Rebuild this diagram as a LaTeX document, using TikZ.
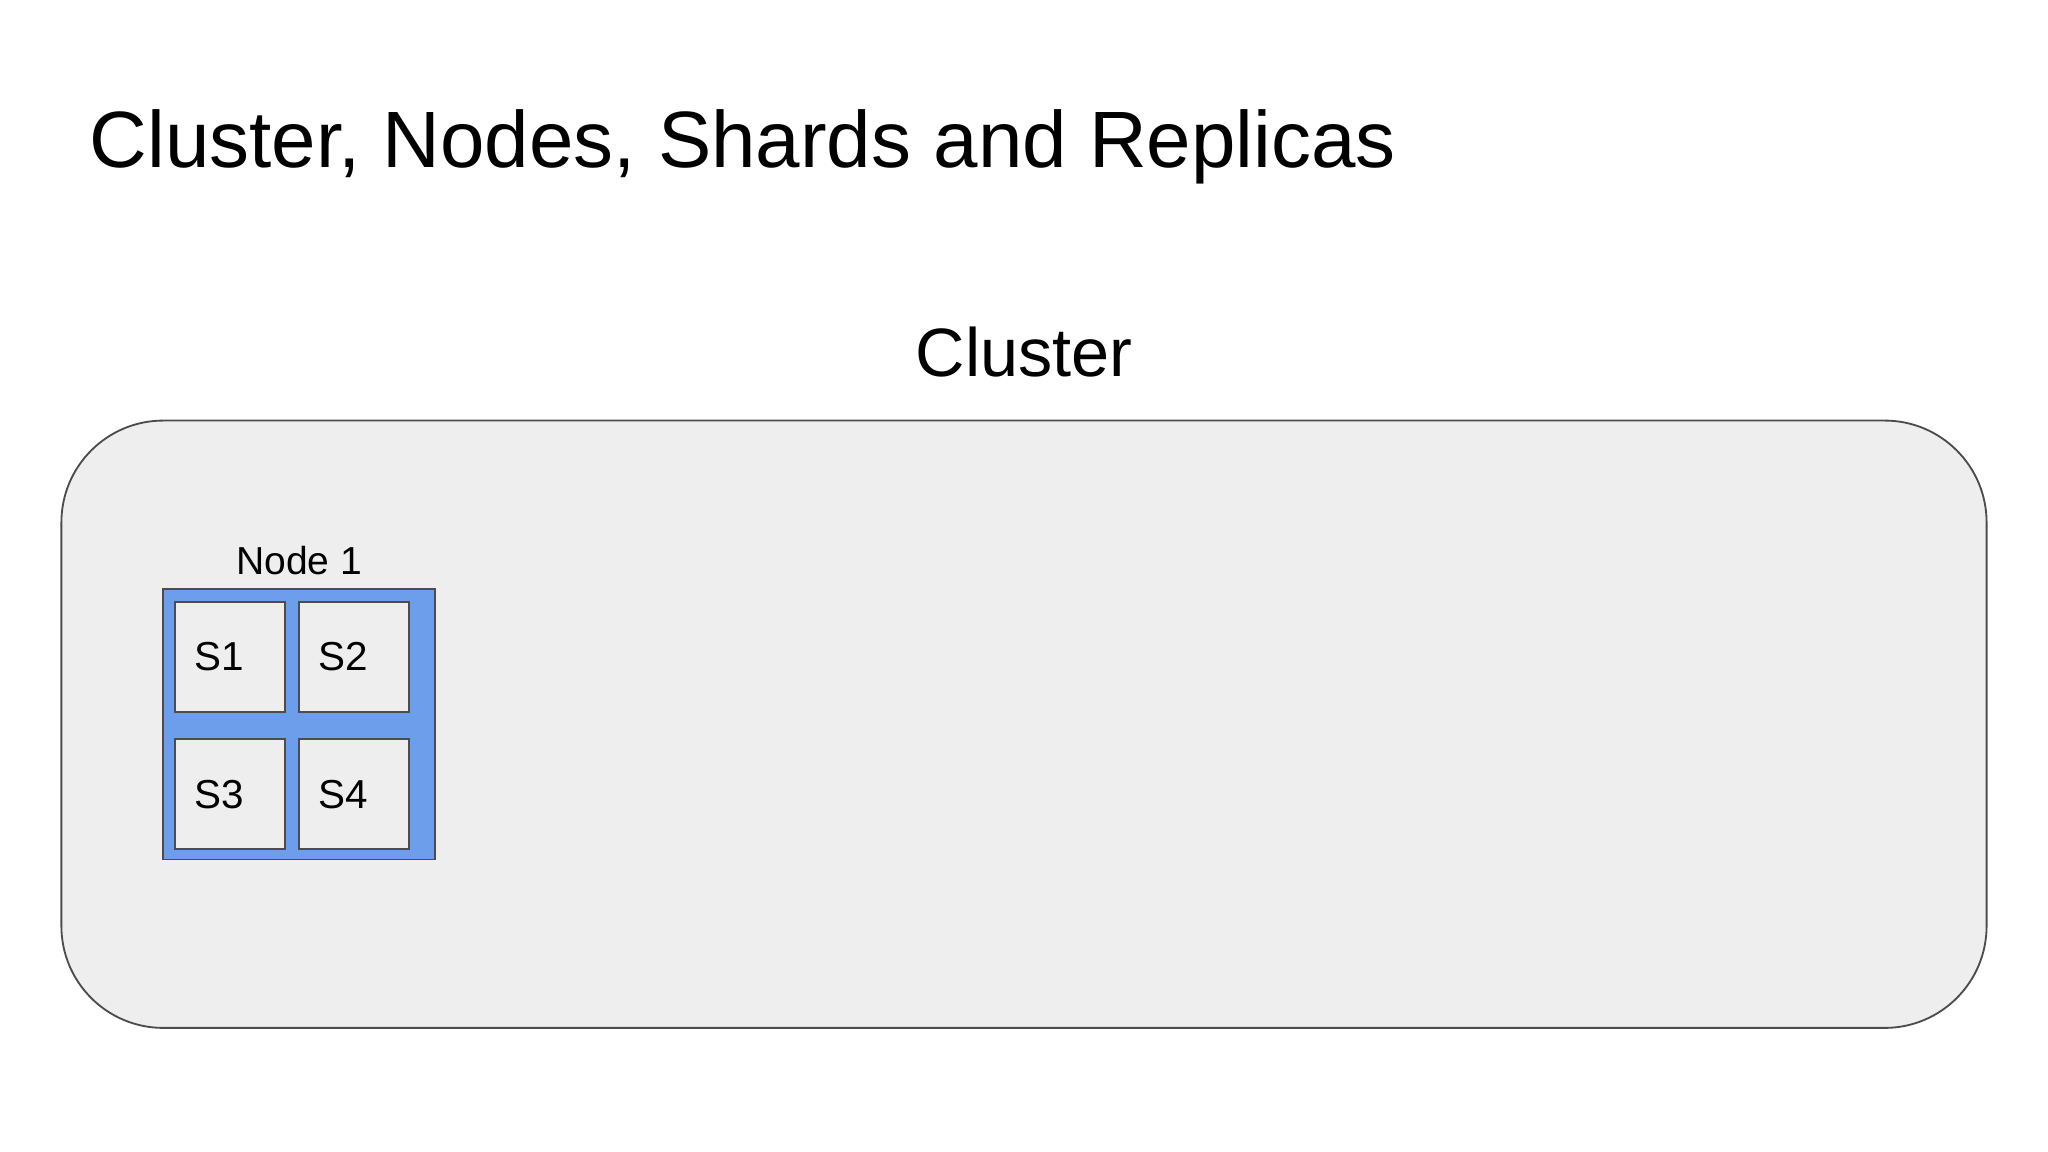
\documentclass[tikz,border=0pt]{standalone}
\usepackage{fontspec}
\setmainfont{Liberation Sans}
\definecolor{clusterfill}{HTML}{EEEEEF}
\definecolor{nodeblue}{HTML}{6D9EEB}
\tikzset{
  shard/.style={draw=black!70,fill=clusterfill,minimum width=0.84cm,minimum height=0.84cm,inner sep=0pt},
  shardlabel/.style={font=\fontsize{8.8}{10}\selectfont,anchor=west}
}
\begin{document}
\begin{tikzpicture}[x=0.01cm,y=-0.01cm]
\useasboundingbox (0,0) rectangle (1568,882);
\fill[white] (0,0) rectangle (1568,882);

% Title
\node[anchor=base west,inner sep=0pt,font=\fontsize{17.4}{20}\selectfont] (title) at (68,128) {Cluster, Nodes, Shards and Replicas};

% The cluster
\draw[black!70,fill=clusterfill,rounded corners=0.78cm] (47,322) rectangle (1521,787);
\node[anchor=base,inner sep=0pt,font=\fontsize{14.9}{18}\selectfont] (cluster) at (784,288) {Cluster};

% Node 1 with its shards
\draw[black!70,fill=nodeblue] (125,451) rectangle (333,658);
\node[anchor=base,inner sep=0pt,font=\fontsize{8.5}{10}\selectfont] (node1) at (229,440) {Node 1};
\foreach \name/\x/\y in {S1/176/503,S2/271/503,S3/176/608,S4/271/608}
{
	\node[shard] (\name) at (\x,\y) {};
	\node[shardlabel,inner sep=0pt] at ([xshift=0.15cm]\name.west) {\name};
}
\end{tikzpicture}
\end{document}
